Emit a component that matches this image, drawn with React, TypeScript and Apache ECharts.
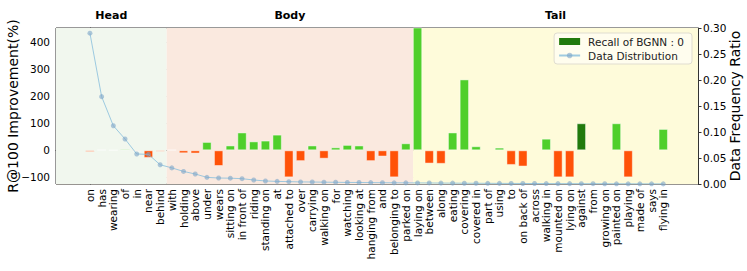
import React, { useEffect, useRef } from "react";
import * as echarts from "echarts";

const categories = [
  "on", "has", "wearing", "of", "in", "near", "behind", "with", "holding", "above",
  "under", "wears", "sitting on", "in front of", "riding", "standing on", "at", "attached to", "over", "carrying",
  "walking on", "for", "watching", "looking at", "hanging from", "and", "belonging to", "parked on", "laying on", "between",
  "along", "eating", "covering", "covered in", "part of", "using", "to", "on back of", "across", "walking in",
  "mounted on", "lying on", "against", "from", "growing on", "painted on", "playing", "made of", "says", "flying in",
];

const improvement = [
  -6, 2, 1, 5, -4, -28, -5, 2, -11, -12,
  31, -58, 18, 66, 33, 36, 58, -100, -40, 18,
  -31, 11, 20, 18, -40, -23, -100, 26, 480, -49,
  -50, 66, 262, 15, 0, 10, -54, -60, 0, 43,
  -100, -100, 100, 0, 0, 100, -100, 0, 0, 79,
];

const dataFrequency = [
  0.290, 0.168, 0.112, 0.0865, 0.0577, 0.057, 0.037, 0.031, 0.0242, 0.0192,
  0.0128, 0.0115, 0.0112, 0.0102, 0.0077, 0.0058, 0.005, 0.0045, 0.004, 0.0038,
  0.0035, 0.0033, 0.003, 0.0029, 0.0027, 0.0025, 0.0023, 0.0022, 0.0021, 0.002,
  0.0018, 0.0017, 0.0015, 0.0014, 0.0013, 0.0012, 0.0011, 0.001, 0.0009, 0.0008,
  0.0007, 0.0007, 0.0006, 0.0006, 0.0005, 0.0004, 0.0004, 0.0003, 0.0003, 0.0002,
];

const zeroRecallCategories = ["against"];

const regionNames = ["Head", "Body", "Tail"];
const regionEdges = [-2.9, 6.56, 27.62, 51.97];

const improvementRange = [-124.5, 452];
const ratioTicks = [0, 0.05, 0.1, 0.15, 0.2, 0.25, 0.3];

const GREEN = "#4fcf2b";
const ORANGE = "#ff5208";
const DARK = "#217a0c";
const REGION_COLORS = ["#f1f7ee", "#fae9df", "#fefbda"];
const FONT = "DejaVu Sans";

export default function App() {
  const ref = useRef<HTMLDivElement>(null);

  useEffect(() => {
    document.body.style.margin = "0";
    const chart = echarts.init(ref.current!, null, { renderer: "svg" });
    const idx = categories.map((_, i) => i);

    const barData = improvement
      .map((v, i) => ({ v, i }))
      .filter((d) => d.v !== 0)
      .map((d) => ({
        value: [d.i, d.v],
        itemStyle: {
          color: zeroRecallCategories.includes(categories[d.i]) ? DARK : d.v > 0 ? GREEN : ORANGE,
        },
      }));

    const fmtMinus = (v: number) => (v < 0 ? "\u2212" + Math.abs(v) : String(v));

    chart.setOption({
      animation: false,
      textStyle: { fontFamily: FONT },
      grid: {
        left: 56,
        right: 49,
        top: 28,
        bottom: 87,
        outerBoundsMode: "none",
        containLabel: false,
        show: true,
        borderColor: "#333",
        borderWidth: 1,
        backgroundColor: "transparent",
      },
      legend: {
        right: 55,
        top: 33,
        orient: "vertical",
        align: "left",
        itemWidth: 21,
        itemHeight: 7,
        itemGap: 3,
        padding: [3, 8, 3, 4],
        backgroundColor: "rgba(255,255,255,0.55)",
        borderColor: "#e0ddd0",
        borderWidth: 1,
        borderRadius: 3,
        textStyle: { fontFamily: FONT, fontSize: 10.5, color: "#222", padding: [0, 0, 0, 3] },
        data: [
          { name: "Recall of BGNN : 0", icon: "rect" },
          { name: "Data Distribution" },
        ],
      },
      xAxis: {
        type: "value",
        min: regionEdges[0],
        max: regionEdges[regionEdges.length - 1],
        splitLine: { show: false },
        axisLine: { show: true, lineStyle: { color: "#333" } },
        axisTick: { show: true, length: 3.5, customValues: idx, lineStyle: { color: "#333" } },
        axisLabel: {
          customValues: idx,
          rotate: 90,
          margin: 5,
          fontSize: 10.5,
          color: "#000",
          fontFamily: FONT,
          formatter: (v: number) => categories[Math.round(v)] ?? "",
        },
      },
      yAxis: [
        {
          type: "value",
          min: improvementRange[0],
          max: improvementRange[1],
          splitNumber: 5,
          name: "R@100 Improvement(%)",
          nameLocation: "middle",
          nameGap: 36,
          nameMoveOverlap: false,
          nameTextStyle: { fontSize: 14, color: "#000", fontFamily: FONT },
          axisLine: { show: true, lineStyle: { color: "#333" } },
          axisTick: { show: true, length: 3.5, lineStyle: { color: "#333" } },
          axisLabel: {
            showMinLabel: false,
            showMaxLabel: false,
            fontSize: 10.5,
            margin: 6,
            color: "#000",
            fontFamily: FONT,
            formatter: fmtMinus,
          },
          splitLine: { show: true, lineStyle: { color: "rgba(150,140,130,0.35)", width: 1 } },
        },
        {
          type: "value",
          min: ratioTicks[0],
          max: ratioTicks[ratioTicks.length - 1],
          interval: ratioTicks[1] - ratioTicks[0],
          position: "right",
          name: "Data Frequency Ratio",
          nameLocation: "middle",
          nameGap: 30,
          nameMoveOverlap: false,
          nameTextStyle: { fontSize: 14, color: "#000", fontFamily: FONT },
          axisLine: { show: true, lineStyle: { color: "#333" } },
          axisTick: { show: true, length: 3.5, lineStyle: { color: "#333" } },
          axisLabel: {
            fontSize: 10.5,
            margin: 5,
            color: "#000",
            fontFamily: FONT,
            formatter: (v: number) => v.toFixed(2),
          },
          splitLine: { show: false },
        },
      ],
      series: [
        {
          name: "Recall of BGNN : 0",
          type: "line",
          data: [],
          z: -1,
          itemStyle: { color: DARK },
          lineStyle: { color: DARK },
          markArea: {
            silent: true,
            label: {
              show: true,
              position: "top",
              distance: 7,
              color: "#000",
              fontWeight: "bold",
              fontSize: 11,
              fontFamily: FONT,
            },
            data: regionNames.map((n, k) => [
              { name: n, xAxis: regionEdges[k], itemStyle: { color: REGION_COLORS[k], opacity: 1 } },
              { xAxis: regionEdges[k + 1] },
            ]),
          },
        },
        {
          name: "Improvement",
          type: "bar",
          data: barData,
          barWidth: 9.4,
          clip: true,
          z: 2,
          itemStyle: { borderColor: "rgba(255,255,255,0.45)", borderWidth: 1 },
        },
        {
          name: "Data Distribution",
          type: "line",
          yAxisIndex: 1,
          data: idx.map((i) => [i, dataFrequency[i]]),
          symbol: "circle",
          symbolSize: 5,
          z: 3,
          lineStyle: { color: "rgba(135,190,220,0.8)", width: 1 },
          itemStyle: { color: "rgba(125,165,200,0.6)" },
        },
      ],
    });

    return () => chart.dispose();
  }, []);

  return <div ref={ref} style={{ width: 747, height: 271 }} />;
}
